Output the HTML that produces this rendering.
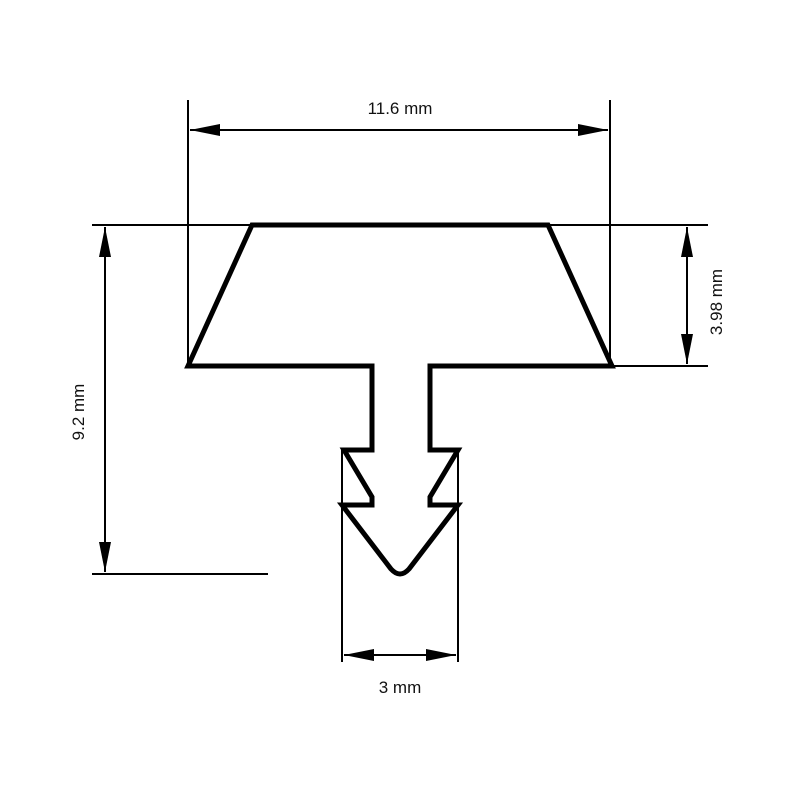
<!DOCTYPE html>
<html><head><style>body{margin:0;background:#fff}</style></head><body>
<svg width="800" height="800" viewBox="0 0 800 800" xmlns="http://www.w3.org/2000/svg">
<defs><marker id="a" viewBox="0 0 10 10" refX="10" refY="5" markerWidth="10" markerHeight="10" markerUnits="userSpaceOnUse" orient="auto-start-reverse"><path d="M0,0 L10,5 L0,10 z" fill="#000"/></marker>
<marker id="b" viewBox="0 0 30 12" refX="30" refY="6" markerWidth="34" markerHeight="12" markerUnits="userSpaceOnUse" orient="auto-start-reverse"><path d="M0,0 L30,6 L0,12 z" fill="#000"/></marker></defs>
<g stroke="#000" stroke-width="2" fill="none">
<line x1="188" y1="100" x2="188" y2="366"/>
<line x1="610" y1="100" x2="610" y2="366"/>
<line x1="92" y1="225" x2="708" y2="225"/>
<line x1="612" y1="366" x2="708" y2="366"/>
<line x1="92" y1="574" x2="268" y2="574"/>
<line x1="342" y1="450" x2="342" y2="662"/>
<line x1="458" y1="450" x2="458" y2="662"/>
<line x1="190" y1="130" x2="608" y2="130" marker-start="url(#b)" marker-end="url(#b)"/>
<line x1="105" y1="227" x2="105" y2="572" marker-start="url(#b)" marker-end="url(#b)"/>
<line x1="687" y1="227" x2="687" y2="364" marker-start="url(#b)" marker-end="url(#b)"/>
<line x1="344" y1="655" x2="456" y2="655" marker-start="url(#b)" marker-end="url(#b)"/>
</g>
<path d="M188,366 L252,225 L548,225 L612,366 L430,366 L430,450 L458,450 L430,497 L430,505 L458,505 L409,569 Q400,579 391,569 L342,505 L372,505 L372,497 L344,450 L372,450 L372,366 Z" fill="none" stroke="#000" stroke-width="5" stroke-linejoin="miter"/>
<g font-family="Liberation Sans, sans-serif" font-size="17" fill="#111" text-anchor="middle">
<text x="400" y="114">11.6 mm</text>
<text x="400" y="693">3 mm</text>
<text transform="translate(84,412) rotate(-90)">9.2 mm</text>
<text transform="translate(722,302) rotate(-90)">3.98 mm</text>
</g>
</svg>
</body></html>
